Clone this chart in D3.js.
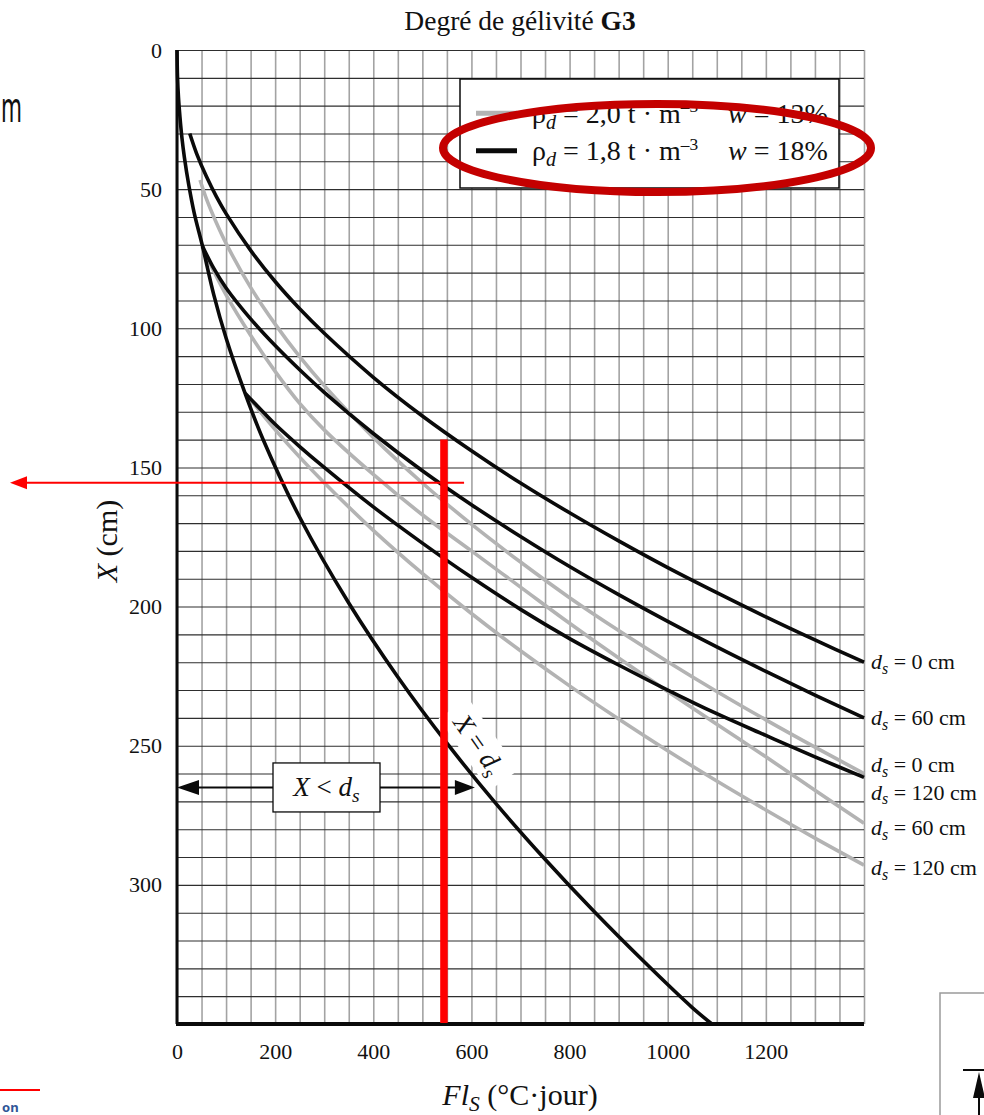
<!DOCTYPE html>
<html lang="fr">
<head>
<meta charset="UTF-8">
<title>Degré de gélivité G3</title>
<style>
  body { margin: 0; background: #fff; }
  svg text { font-family: "Liberation Serif", "DejaVu Serif", serif; fill: #111; }
</style>
</head>
<body>
<div id="chart"></div>
<script src="https://d3js.org/d3.v7.min.js"></script>
<script>
// frost index Fl_S (°C·jour) vs frost depth X (cm)
const flTicks = [0, 200, 400, 600, 800, 1000, 1200];
const depthTicks = [0, 50, 100, 150, 200, 250, 300];
const gridFl = d3.range(0, 1401, 50);
const gridDepth = d3.range(0, 351, 10);

// X = ds limit curve
const xEqualsDs = [[0,0],[1,9.5],[3,17],[6,24],[10,31.5],[15,38.5],[24,48.5],[35,58.5],[52,70.5],[75,88],[100,103.5],[139,123.5],[175,139.8],[250,167.9],[350,198.7],[450,225.3],[550,249.1],[650,270.8],[750,290.8],[850,309.6],[950,327.3],[1050,344.1],[1090,350]];

// rho_d = 1,8 t/m3, w = 18% (black)
const blackDs0 = [[26,30],[40,37.2],[60,45.5],[80,52.6],[100,58.8],[150,72],[200,83.2],[250,93],[300,101.8],[400,117.6],[500,131.5],[600,144],[700,155.6],[800,166.3],[900,176.4],[1000,186],[1100,195],[1200,203.7],[1300,212],[1400,220]];
const blackDs60 = [[52,70.5],[75,78.5],[100,85.5],[150,96.6],[200,106.2],[250,114.9],[300,123],[400,137.8],[500,151.2],[600,163.4],[700,174.8],[800,185.6],[900,195.7],[1000,205.3],[1100,214.5],[1200,223.3],[1300,231.8],[1400,240]];
const blackDs120 = [[139,123.4],[175,130],[200,134.5],[250,142.5],[300,150],[400,164.2],[500,177.2],[600,189.5],[700,201],[800,211.5],[900,221],[1000,230],[1100,238.5],[1200,246.3],[1300,254],[1400,261.4]];

// rho_d = 2,0 t/m3, w = 13% (grey)
const grayDs0 = [[47,46.7],[60,53.5],[80,62],[100,69.5],[150,85.3],[200,98.5],[250,110.2],[300,120.6],[400,139.2],[500,155.6],[600,170.4],[700,184],[800,196.8],[900,208.6],[1000,219.8],[1100,230.5],[1200,240.7],[1300,250.5],[1400,260]];
const grayDs60 = [[51,70.7],[75,79.5],[100,88],[150,102.5],[200,115.5],[250,127],[300,136.5],[400,152.5],[500,167],[600,180],[700,193],[800,206],[900,218.5],[1000,230.5],[1100,242.3],[1200,254],[1300,266],[1400,277.9]];
const grayDs120 = [[139,123.2],[175,131.1],[200,136.4],[250,146.3],[300,155.5],[400,172.6],[500,188.1],[600,202.5],[700,215.9],[800,228.5],[900,240.4],[1000,251.8],[1100,262.7],[1200,273.1],[1300,283.2],[1400,292.9]];

// curve end labels (ds value, depth where the label sits)
const endLabelDs = ["0", "60", "0", "120", "60", "120"];
const endLabelDepth = [220, 240, 257, 266.8, 279.6, 294];

const legendRho = ["2,0", "1,8"];
const legendW = ["13%", "18%"];

const BLACK = "#0a0a0a", GREY = "#b3b3b3", RED = "#ff0000";

const svg = d3.select("#chart").append("svg")
  .attr("width", 984)
  .attr("height", 1115);

const x = d3.scaleLinear().domain([0, 1400]).range([177, 864]);
const y = d3.scaleLinear().domain([0, 350]).range([50, 1024]);
const plotW = x(1400) - x(0), plotH = y(350) - y(0);

// grid
svg.append("g")
  .attr("transform", `translate(0,${y(350)})`)
  .call(d3.axisBottom(x).tickValues(gridFl).tickSize(-plotH).tickFormat(""))
  .call(g => g.select(".domain").remove())
  .selectAll("line").attr("stroke", "#a3a3a3").attr("stroke-width", 1.6);

svg.append("g")
  .attr("transform", `translate(${x(0)},0)`)
  .call(d3.axisLeft(y).tickValues(gridDepth).tickSize(-plotW).tickFormat(""))
  .call(g => g.select(".domain").remove())
  .selectAll("line").attr("stroke", "#2e2e2e").attr("stroke-width", 1.1);

// tick labels
const xAx = svg.append("g")
  .attr("transform", `translate(0,${y(350)})`)
  .call(d3.axisBottom(x).tickValues(flTicks).tickSize(0).tickPadding(19).tickFormat(d3.format("d")));
xAx.select(".domain").remove();
xAx.attr("font-family", null).attr("font-size", 22);

const yAx = svg.append("g")
  .attr("transform", `translate(${x(0)},0)`)
  .call(d3.axisLeft(y).tickValues(depthTicks).tickSize(0).tickPadding(15));
yAx.select(".domain").remove();
yAx.attr("font-family", null).attr("font-size", 22);

// curves
const line = d3.line()
  .x(d => x(d[0]))
  .y(d => y(d[1]))
  .curve(d3.curveCatmullRom.alpha(0.5));

const curves = [
  {pts: grayDs0, color: GREY},
  {pts: grayDs60, color: GREY},
  {pts: grayDs120, color: GREY},
  {pts: xEqualsDs, color: BLACK},
  {pts: blackDs0, color: BLACK},
  {pts: blackDs60, color: BLACK},
  {pts: blackDs120, color: BLACK}
];

svg.append("g").selectAll("path")
  .data(curves)
  .enter().append("path")
  .attr("d", d => line(d.pts))
  .attr("fill", "none")
  .attr("stroke", d => d.color)
  .attr("stroke-width", 3.6)
  .attr("stroke-linejoin", "round");

// axis lines
svg.append("line")
  .attr("x1", x(0)).attr("x2", x(0)).attr("y1", y(0)).attr("y2", y(350))
  .attr("stroke", BLACK).attr("stroke-width", 3);
svg.append("line")
  .attr("x1", x(0) - 1).attr("x2", x(1400)).attr("y1", y(350)).attr("y2", y(350))
  .attr("stroke", BLACK).attr("stroke-width", 4);

// end labels
const endLbl = svg.append("g").attr("font-size", 22);
endLabelDs.forEach((ds, i) => {
  const t = endLbl.append("text")
    .attr("x", x(1400) + 7)
    .attr("y", y(endLabelDepth[i]))
    .attr("dy", "0.33em");
  t.append("tspan").attr("font-style", "italic").text("d");
  t.append("tspan").attr("font-style", "italic").attr("font-size", "0.72em").attr("dy", "0.3em").text("s");
  t.append("tspan").attr("dy", "-0.22em").text(` = ${ds} cm`);
});

// title
const title = svg.append("text")
  .attr("x", 520).attr("y", 30)
  .attr("text-anchor", "middle")
  .attr("font-size", 27.5);
title.append("tspan").text("Degré de gélivité ");
title.append("tspan").attr("font-weight", "bold").text("G3");

// axis titles
const xt = svg.append("text")
  .attr("x", 520).attr("y", 1105)
  .attr("text-anchor", "middle")
  .attr("font-size", 30);
xt.append("tspan").attr("font-style", "italic").text("Fl");
xt.append("tspan").attr("font-style", "italic").attr("font-size", "0.72em").attr("dy", "0.3em").text("S");
xt.append("tspan").attr("dy", "-0.22em").text(" (°C·jour)");

const yt = svg.append("text")
  .attr("transform", "translate(117,541) rotate(-90)")
  .attr("text-anchor", "middle")
  .attr("font-size", 30);
yt.append("tspan").attr("font-style", "italic").text("X");
yt.append("tspan").text(" (cm)");

// legend
const leg = svg.append("g");
leg.append("rect")
  .attr("x", 460).attr("y", 79).attr("width", 379).attr("height", 109)
  .attr("fill", "#fff").attr("stroke", BLACK).attr("stroke-width", 1.5);
legendRho.forEach((rho, i) => {
  const cy = 113.3 + i * 37.4;
  leg.append("line")
    .attr("x1", 476).attr("x2", 517).attr("y1", cy).attr("y2", cy)
    .attr("stroke", i === 0 ? GREY : BLACK).attr("stroke-width", 5);
  const t = leg.append("text").attr("x", 532).attr("y", cy + 9.5).attr("font-size", 28);
  t.append("tspan").text("ρ");
  t.append("tspan").attr("font-style", "italic").attr("font-size", "0.72em").attr("dy", "0.3em").text("d");
  t.append("tspan").attr("dy", "-0.22em").text(` = ${rho} t · m`);
  t.append("tspan").attr("font-size", "0.62em").attr("dy", "-0.6em").text("–3");
  const w = leg.append("text").attr("x", 728).attr("y", cy + 9.5).attr("font-size", 28);
  w.append("tspan").attr("font-style", "italic").text("w");
  w.append("tspan").text(` = ${legendW[i]}`);
});

// X < ds double arrow with box
const arrowY = y(265);
const arrowEnd = x(607);
const ann = svg.append("g");
ann.append("line").attr("x1", x(0) + 18).attr("x2", arrowEnd - 16).attr("y1", arrowY).attr("y2", arrowY)
  .attr("stroke", BLACK).attr("stroke-width", 2);
ann.append("path")
  .attr("d", `M${x(0)},${arrowY} l22,-7.5 l0,15 z`).attr("fill", BLACK);
ann.append("path")
  .attr("d", `M${arrowEnd},${arrowY} l-20,-7.5 l0,15 z`).attr("fill", BLACK);
ann.append("rect")
  .attr("x", 273).attr("y", arrowY - 24.5).attr("width", 107).attr("height", 49)
  .attr("fill", "#fff").attr("stroke", BLACK).attr("stroke-width", 1.3);
const lt = ann.append("text").attr("x", 326.5).attr("y", arrowY + 9).attr("text-anchor", "middle").attr("font-size", 27);
lt.append("tspan").attr("font-style", "italic").text("X");
lt.append("tspan").text(" < ");
lt.append("tspan").attr("font-style", "italic").text("d");
lt.append("tspan").attr("font-style", "italic").attr("font-size", "0.72em").attr("dy", "0.3em").text("s");

// X = ds label on the limit curve
const eq = ann.append("g").attr("transform", `translate(${x(613)},${y(249.7)}) rotate(55)`);
eq.append("rect").attr("x", -44).attr("y", -19).attr("width", 88).attr("height", 36).attr("fill", "#fff");
const et = eq.append("text").attr("text-anchor", "middle").attr("y", 8).attr("font-size", 27);
et.append("tspan").attr("font-style", "italic").text("X");
et.append("tspan").text(" = ");
et.append("tspan").attr("font-style", "italic").text("d");
et.append("tspan").attr("font-style", "italic").attr("font-size", "0.72em").attr("dy", "0.3em").text("s");

// red reading marks
const readFl = 544, readTop = 140, readDepth = 155.5;
svg.append("line")
  .attr("x1", x(readFl)).attr("x2", x(readFl)).attr("y1", y(readTop)).attr("y2", y(350) - 1)
  .attr("stroke", RED).attr("stroke-width", 7.5);
svg.append("line")
  .attr("x1", 24).attr("x2", x(585)).attr("y1", y(readDepth)).attr("y2", y(readDepth))
  .attr("stroke", RED).attr("stroke-width", 2);
svg.append("path")
  .attr("d", `M10,${y(readDepth)} l17,-6.5 l0,13 z`).attr("fill", RED);

// red ellipse on the legend
svg.append("ellipse")
  .attr("cx", 657).attr("cy", 148).attr("rx", 214).attr("ry", 44)
  .attr("fill", "none").attr("stroke", "#c40000").attr("stroke-width", 8);

// slide leftovers around the figure
svg.append("text").attr("x", 1).attr("y", 122)
  .style("font-family", "'Noto Sans', sans-serif").attr("font-size", 42)
  .attr("textLength", 21).attr("lengthAdjust", "spacingAndGlyphs").text("m");
svg.append("line").attr("x1", 0).attr("x2", 40).attr("y1", 1090).attr("y2", 1090)
  .attr("stroke", RED).attr("stroke-width", 2);
svg.append("text").attr("x", 2).attr("y", 1112)
  .style("font-family", "'Noto Sans', sans-serif").style("fill", "#2f5597")
  .attr("font-weight", "bold").attr("font-size", 13).text("on");
svg.append("rect").attr("x", 940).attr("y", 993).attr("width", 80).attr("height", 160)
  .attr("fill", "none").attr("stroke", "#9a9a9a").attr("stroke-width", 1.5);
svg.append("line").attr("x1", 963).attr("x2", 984).attr("y1", 1070).attr("y2", 1070)
  .attr("stroke", BLACK).attr("stroke-width", 2);
svg.append("path").attr("d", "M979,1072 l-6,26 l12,0 z").attr("fill", BLACK);
svg.append("line").attr("x1", 979).attr("x2", 979).attr("y1", 1096).attr("y2", 1115)
  .attr("stroke", BLACK).attr("stroke-width", 2);
</script>
</body>
</html>
